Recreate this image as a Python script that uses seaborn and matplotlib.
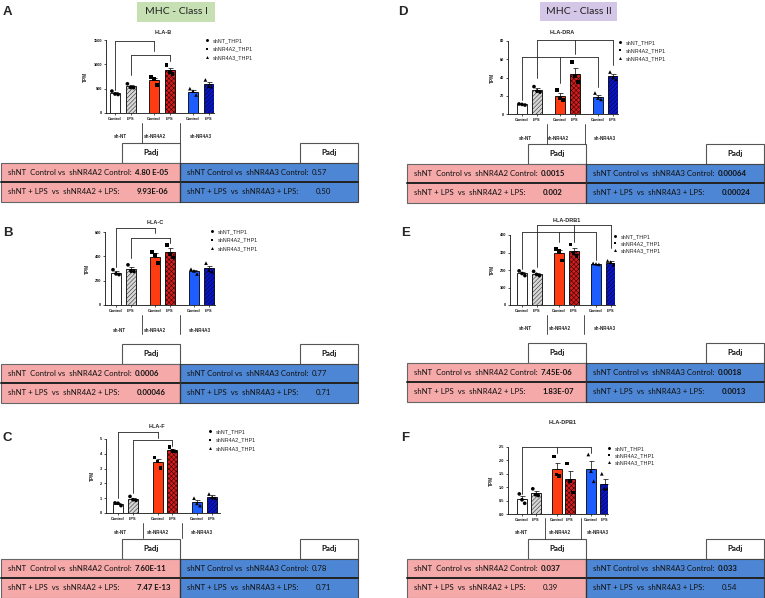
import numpy as np
import pandas as pd
import matplotlib
matplotlib.use("Agg")
import matplotlib.pyplot as plt
from matplotlib.patches import Rectangle
import seaborn as sns

sns.set_theme(style="ticks")
plt.rcParams["font.family"] = ["Liberation Sans", "DejaVu Sans"]
plt.rcParams["hatch.linewidth"] = 0.3

# ---------------- data ----------------
conditions = ["Control", "LPS"]
groups = ["sh-NT", "sh-NR4A2", "sh-NR4A3"]
lines = ["shNT_THP1", "shNR4A2_THP1", "shNR4A3_THP1"]
genes = ["HLA-B", "HLA-C", "HLA-F", "HLA-DRA", "HLA-DRB1", "HLA-DPB1"]

# replicates per bar: shNT Ctrl, shNT LPS, NR4A2 Ctrl, NR4A2 LPS, NR4A3 Ctrl, NR4A3 LPS
hla_b = [[450, 390, 380], [600, 525, 520], [745, 705, 570], [990, 840, 800], [500, 450, 370], [680, 550, 540]]
hla_c = [[290, 256, 250], [330, 278, 275], [435, 412, 345], [495, 420, 390], [294, 280, 255], [344, 285, 275]]
hla_f = [[0.68, 0.66, 0.50], [1.12, 0.90, 0.85], [3.74, 3.47, 3.03], [4.44, 4.20, 4.15], [1.00, 0.65, 0.50], [1.28, 1.05, 1.00]]
hla_dra = [[11, 10.5, 9.8], [30, 25, 24], [26, 17, 15], [57, 41, 35], [23, 17.5, 16], [46, 40, 38]]
hla_drb1 = [[195, 180, 168], [192, 175, 168], [320, 310, 255], [345, 295, 280], [238, 235, 232], [252, 245, 230]]
hla_dpb1 = [[0.75, 0.53, 0.40], [0.94, 0.72, 0.69], [2.14, 1.47, 1.41], [1.88, 1.22, 0.80], [2.22, 1.60, 1.22], [1.50, 0.95, 0.95]]

ticks_b = [0, 500, 1000, 1500]
ticks_c = [0, 200, 400, 600]
ticks_f = [0, 1, 2, 3, 4, 5]
ticks_dra = [0, 20, 40, 60, 80]
ticks_drb1 = [0, 100, 200, 300, 400]
ticks_dpb1 = [0.0, 0.5, 1.0, 1.5, 2.0, 2.5]

# brackets: (bar indices, top value, leg end values)
brk_b = [((0, 2), 1470, (480, 1270)), ((1, 3), 1190, (790, 1060))]
brk_c = [((0, 2), 630, (316, 590)), ((1, 3), 550, (385, 510))]
brk_f = [((0, 2), 5.49, (1.0, 5.09)), ((1, 3), 4.93, (1.35, 4.53))]
brk_dra = [((1, 3, 5), 81.5, (39, 66, 53.6)), ((0, 2, 4), 62.7, (15.6, 33.7, 30))]
brk_drb1 = [((1, 3, 5), 457, (215, 362, 324)), ((0, 2, 4), 415, (205, 362, 258))]
brk_dpb1 = [((0, 2, 4), 2.5, (0.75, 2.28, 2.28))]

# Padj: [shNT ctrl vs NR4A2 ctrl, shNT LPS vs NR4A2 LPS, shNT ctrl vs NR4A3 ctrl, shNT LPS vs NR4A3 LPS]
padj_b = ["4.80 E-05", "9.93E-06", "0.57", "0.50"]
padj_c = ["0.0006", "0.00046", "0.77", "0.71"]
padj_f = ["7.60E-11", "7.47 E-13", "0.78", "0.71"]
padj_dra = ["0.0015", "0.002", "0.00064", "0.00024"]
padj_drb1 = ["7.45E-06", "1.83E-07", "0.0018", "0.0013"]
padj_dpb1 = ["0.037", "0.39", "0.033", "0.54"]

row_labels = ["shNT  Control vs  shNR4A2 Control:", "shNT + LPS  vs  shNR4A2 + LPS:",
              "shNT Control vs  shNR4A3 Control:", "shNT + LPS  vs  shNR4A3 + LPS:"]
headers = ["MHC - Class I", "MHC - Class II"]

# ---------------- styles ----------------
bar_fill = ["white", "#d6d6d6", "#ff3b12", "#d41c1c", "#1d5cff", "#0a16c4"]
bar_hatch = [None, "////////", None, "xxxxxxx", None, "////////"]
pink = "#f5a9a9"
blue = "#4d86d4"
TFONT = ["Lato", "DejaVu Sans"]
TFS = 5.6

W, H = 765, 598
fig = plt.figure(figsize=(W / 100, H / 100), dpi=100)
bg = fig.add_axes([0, 0, 1, 1])
bg.set_xlim(0, W)
bg.set_ylim(H, 0)
bg.axis("off")

panels = [
    dict(letter="A", gene=genes[0], values=hla_b, yticks=ticks_b, brackets=brk_b, padj=padj_b, col=0,
         box=(106, 214, 40, 113), bars=(115, 15.5, 39), title_xy=(163, 32), legend_xy=(207, 42, 9),
         letter_xy=(3, 12), group_y=136, group_x=(120, 155, 201), sep_x=(142, 180), sep_y=(123, 143), table_y=143),
    dict(letter="B", gene=genes[1], values=hla_c, yticks=ticks_c, brackets=brk_c, padj=padj_c, col=0,
         box=(105, 215, 232, 305), bars=(116, 15, 39), title_xy=(155, 222), legend_xy=(212, 233, 9),
         letter_xy=(3, 233), group_y=330, group_x=(119, 155, 200), sep_x=(142, 180), sep_y=(315, 334), table_y=344),
    dict(letter="C", gene=genes[2], values=hla_f, yticks=ticks_f, brackets=brk_f, padj=padj_f, col=0,
         box=(106, 220, 439, 513), bars=(118, 15, 39.5), title_xy=(157, 427), legend_xy=(210, 433, 9),
         letter_xy=(3, 438), group_y=532, group_x=(120, 158, 202), sep_x=(143, 182), sep_y=(523, 538), table_y=539),
    dict(letter="D", gene=genes[3], values=hla_dra, yticks=ticks_dra, brackets=brk_dra, padj=padj_dra, col=1,
         box=(508, 618, 41, 114), bars=(522, 15, 38), title_xy=(562, 32), legend_xy=(620, 44, 8.5),
         letter_xy=(398, 12), group_y=138, group_x=(525, 558, 605), sep_x=(547, 585), sep_y=(124, 144), table_y=144),
    dict(letter="E", gene=genes[4], values=hla_drb1, yticks=ticks_drb1, brackets=brk_drb1, padj=padj_drb1, col=1,
         box=(510, 615, 235, 305), bars=(522, 14.5, 37), title_xy=(567, 221), legend_xy=(615, 238, 7.5),
         letter_xy=(401, 233), group_y=328, group_x=(525, 560, 605), sep_x=(547, 584), sep_y=(315, 334), table_y=343),
    dict(letter="F", gene=genes[5], values=hla_dpb1, yticks=ticks_dpb1, brackets=brk_dpb1, padj=padj_dpb1, col=1,
         box=(508, 608, 447, 514), bars=(522, 13.5, 34.5), title_xy=(563, 422), legend_xy=(609, 450, 7.5),
         letter_xy=(401, 438), group_y=532, group_x=(521, 560, 598), sep_x=(545, 581), sep_y=(518, 539), table_y=539),
]

table_cols = [(1, 180, 358), (407, 586, 764)]


def draw_chart(p):
    x0, x1, ytop, ybot = p["box"]
    ax = fig.add_axes([x0 / W, 1 - ybot / H, (x1 - x0) / W, (ybot - ytop) / H])
    ax.patch.set_alpha(0)
    c0, s, G = p["bars"]
    pos = [g * G / s + c for g in range(len(groups)) for c in range(len(conditions))]
    rows = []
    for b, reps in enumerate(p["values"]):
        for r, v in enumerate(reps):
            rows.append(dict(bar=b, pos=pos[b], xp=pos[b] + (r - 1) * 0.2,
                             line=lines[b // 2], TPM=v))
    df = pd.DataFrame(rows)
    sns.barplot(data=df, x="pos", y="TPM", native_scale=True, errorbar=None,
                width=10 / s, color="white", edgecolor="black", linewidth=0.6,
                ax=ax, zorder=2)
    bars = sorted(ax.patches, key=lambda q: q.get_x())
    for q, fc, ht in zip(bars, bar_fill, bar_hatch):
        q.set_facecolor(fc)
        q.set_edgecolor("black")
        if ht:
            q.set_hatch(ht)
    st = df.groupby("bar")["TPM"].agg(["mean", "sem"])
    ax.errorbar(pos, st["mean"], yerr=[np.zeros(len(pos)), st["sem"]], fmt="none",
                ecolor="black", elinewidth=0.5, capsize=1.8, capthick=0.5, zorder=3)
    sns.scatterplot(data=df, x="xp", y="TPM", style="line", style_order=lines,
                    markers=dict(zip(lines, ["o", "s", "^"])), color="black",
                    s=7, linewidth=0, ax=ax, zorder=5)
    lx, ly, lsp = p["legend_xy"]
    fs = 3.9
    fpx = fs * 100 / 72
    sns.move_legend(ax, "upper left",
                    bbox_to_anchor=((lx - 0.5 * fpx) / W, 1 - (ly - 0.7 * fpx) / H),
                    bbox_transform=fig.transFigure, frameon=False, title=None,
                    fontsize=fs, labelspacing=(lsp / fpx) - 1.0, handlelength=1.0,
                    handletextpad=0.5, borderpad=0, borderaxespad=0, markerscale=0.8)
    ax.set_xlim((x0 - c0) / s, (x1 - c0) / s)
    ax.set_ylim(0, p["yticks"][-1])
    ax.set_yticks(p["yticks"])
    ax.set_xticks(pos)
    ax.set_xticklabels(conditions * len(groups), fontweight="bold", fontsize=3.1)
    ax.tick_params(axis="both", length=1.6, width=0.5, pad=1, labelsize=2.8, colors="#111")
    for lab in ax.get_yticklabels():
        lab.set_fontweight("bold")
    ax.set_xlabel("")
    ax.set_ylabel("TPM", fontsize=3.4, fontweight="bold", labelpad=4)
    sns.despine(ax=ax)
    for sp in ["left", "bottom"]:
        ax.spines[sp].set_linewidth(0.6)
        ax.spines[sp].set_color("#111")
    for idxs, top, ends in p["brackets"]:
        xs = [pos[i] for i in idxs]
        ax.plot([xs[0], xs[-1]], [top, top], color="#222", lw=0.6, clip_on=False, zorder=6)
        for xi, e in zip(xs, ends):
            ax.plot([xi, xi], [e, top], color="#222", lw=0.6, clip_on=False, zorder=6)


def draw_table(p):
    xl, xm, xr = table_cols[p["col"]]
    y0 = p["table_y"]
    h = 19.5
    for bx in (xm - 58, xr - 58):
        bg.add_patch(Rectangle((bx, y0), 58, h, fc="white", ec="#555", lw=0.8))
        bg.text(bx + 29, y0 + h / 2, "Padj", ha="center", va="center", fontsize=TFS + 0.2,
                fontweight="bold", family=TFONT, color="#111")
    y1 = y0 + h
    bg.add_patch(Rectangle((xl, y1), xm - xl, 2 * h, fc=pink, ec="#666", lw=0.8))
    bg.add_patch(Rectangle((xm, y1), xr - xm, 2 * h, fc=blue, ec="#444", lw=0.8))
    bg.plot([xl, xr], [y1 + h, y1 + h], color="#222", lw=1.4)
    bg.plot([xm, xm], [y1, y1 + 2 * h], color="#333", lw=0.9)
    cells = [(xl, 0), (xl, 1), (xm, 0), (xm, 1)]
    for (cx, r), lab, val in zip(cells, row_labels, p["padj"]):
        yc = y1 + h * r + h / 2
        t = bg.text(cx + 7, yc, lab, ha="left", va="center", fontsize=TFS,
                    family=TFONT, color="#111")
        wt = "bold" if float(val.replace(" ", "")) < 0.05 else "normal"
        if r == 0:
            bg.annotate(val, xy=(1, 0.5), xycoords=t, xytext=(2.2, 0), textcoords="offset points",
                        ha="left", va="center", fontsize=TFS, fontweight=wt, family=TFONT, color="#111")
        else:
            bg.text(cx + 136, yc, val, ha="left", va="center", fontsize=TFS, fontweight=wt,
                    family=TFONT, color="#111")


for p in panels:
    draw_chart(p)
    draw_table(p)
    bg.text(*p["title_xy"], p["gene"], ha="center", va="center", fontsize=4, fontweight="bold")
    bg.text(*p["letter_xy"], p["letter"], ha="left", va="center", fontsize=9.5, fontweight="bold")
    for gx, gname in zip(p["group_x"], groups):
        bg.text(gx, p["group_y"], gname, ha="center", va="center", fontsize=3.3, fontweight="bold")
    for sx in p["sep_x"]:
        bg.plot([sx, sx], list(p["sep_y"]), color="#333", lw=0.6)

# headers
bg.add_patch(Rectangle((137, 2), 78, 20, fc="#c6e0b4", ec="none"))
bg.text(176, 12, headers[0], ha="center", va="center", fontsize=7.5, family=TFONT, color="#222")
bg.add_patch(Rectangle((540, 2), 77, 19, fc="#d4c6e6", ec="none"))
bg.text(578.5, 11.5, headers[1], ha="center", va="center", fontsize=7.5, family=TFONT, color="#222")

fig.savefig("out.png", dpi=100)
